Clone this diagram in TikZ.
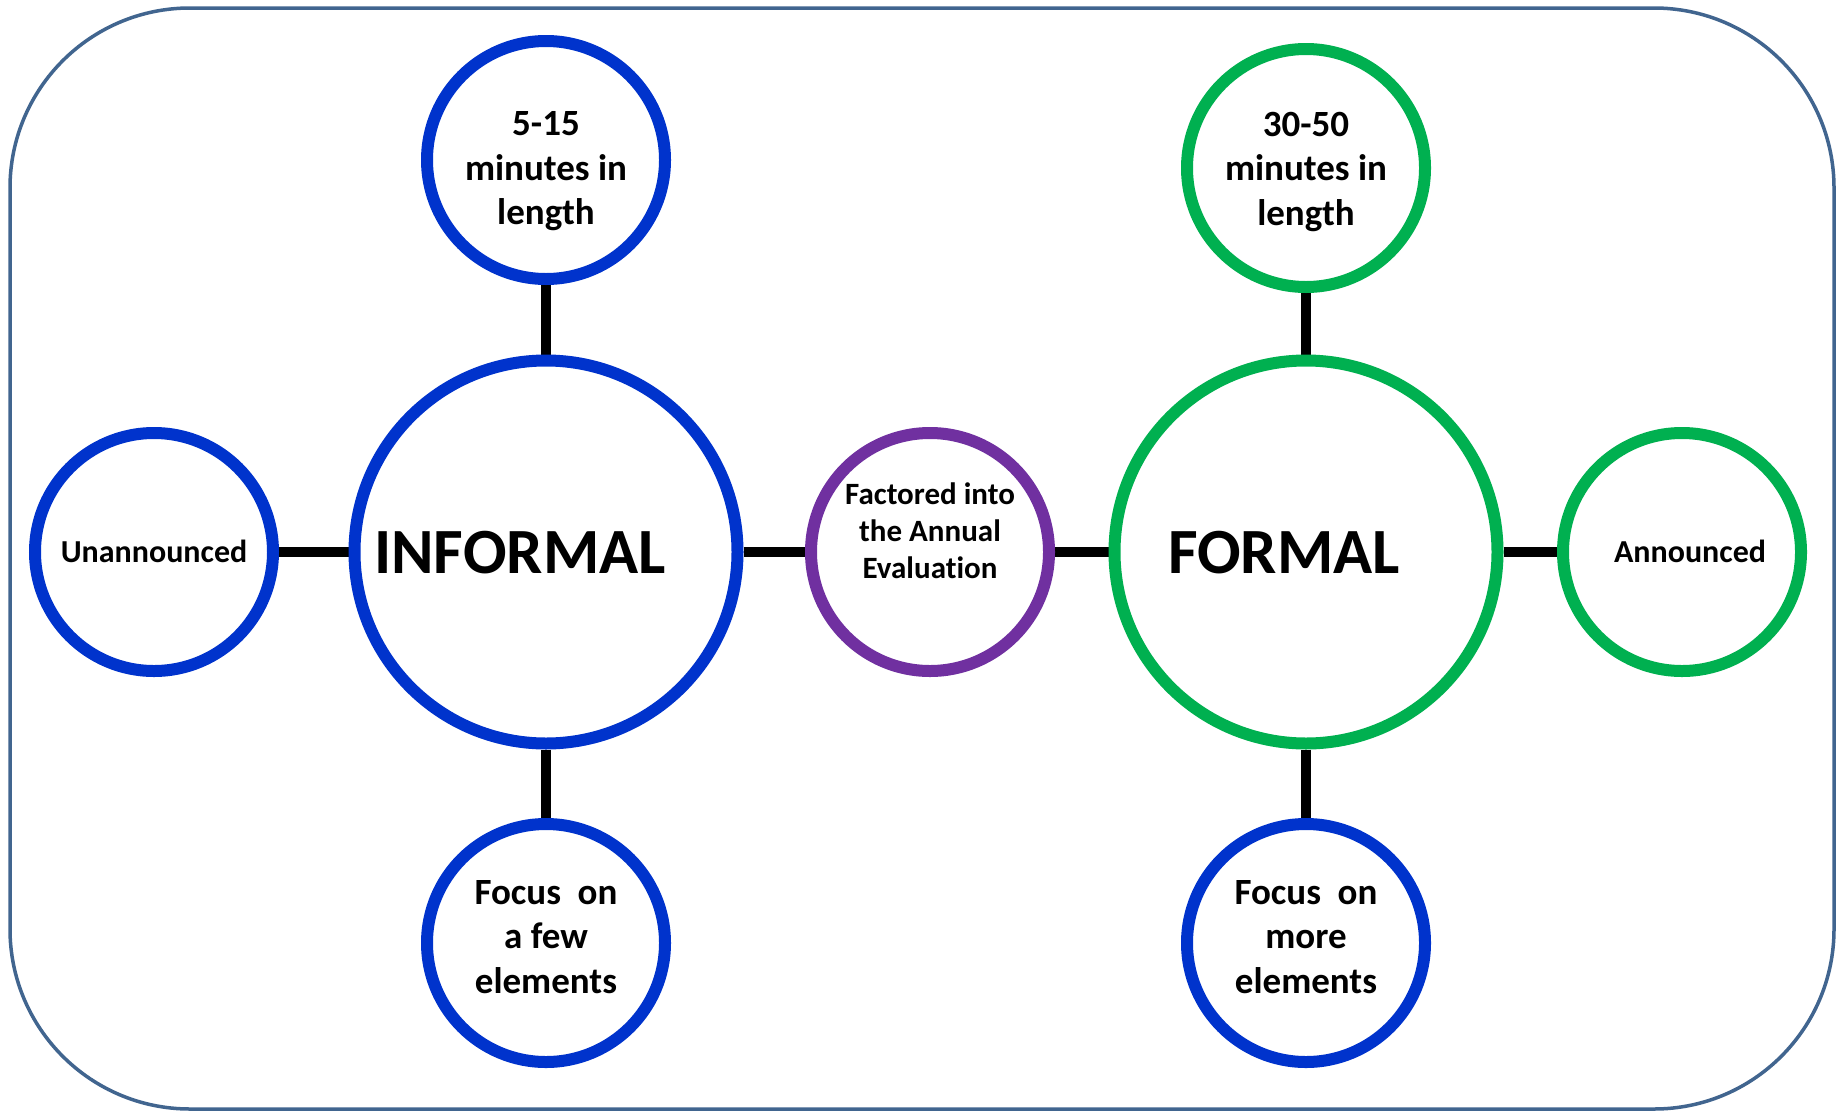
\documentclass[tikz,border=0pt]{standalone}
\usepackage{fontspec}
\setmainfont[Ligatures=NoCommon]{Carlito}
\usetikzlibrary{backgrounds}
\definecolor{cblue}{RGB}{0,51,204}
\definecolor{cgreen}{RGB}{0,176,80}
\definecolor{cpurple}{RGB}{112,48,160}
\definecolor{cframe}{RGB}{65,101,143}
\begin{document}
\begin{tikzpicture}[x=1pt,y=-1pt,
  smallc/.style={circle,draw,fill=white,line width=12pt,minimum size=238pt,inner sep=0pt},
  bigc/.style={smallc,minimum size=383pt},
  txt/.style={align=center,font=\bfseries\fontsize{37}{44.5}\selectfont,inner sep=0pt},
  stxt/.style={align=center,font=\bfseries\fontsize{31}{37}\selectfont,inner sep=0pt},
  htxt/.style={anchor=base,font=\bfseries\fontsize{64.5}{70}\selectfont,inner sep=0pt},
  ltxt/.style={anchor=base,font=\bfseries\fontsize{32}{37}\selectfont,inner sep=0pt},
  conn/.style={line width=10pt,black}]
\useasboundingbox (0,0) rectangle (1841,1111);
\begin{scope}[on background layer]
  \fill[white] (0,0) rectangle (1841,1111);
\end{scope}
\draw[cframe,line width=3.5pt,rounded corners=180pt] (10,8) rectangle (1834,1109);

% circles
\node[bigc,draw=cblue] (inf) at (546,552) {};
\node[bigc,draw=cgreen] (frm) at (1306,552) {};
\node[smallc,draw=cblue] (inftop) at (546,160) {};
\node[smallc,draw=cblue] (infbot) at (546,943) {};
\node[smallc,draw=cblue] (unann) at (154,552) {};
\node[smallc,draw=cpurple] (mid) at (930,552) {};
\node[smallc,draw=cgreen] (frmtop) at (1306,168) {};
\node[smallc,draw=cgreen] (ann) at (1682,552) {};
\node[smallc,draw=cblue] (frmbot) at (1306,943) {};

% connectors
\begin{scope}[on background layer]
  \draw[conn] (inftop) -- (inf);
  \draw[conn] (inf) -- (infbot);
  \draw[conn] (unann) -- (inf);
  \draw[conn] (inf) -- (mid);
  \draw[conn] (mid) -- (frm);
  \draw[conn] (frmtop) -- (frm);
  \draw[conn] (frm) -- (frmbot);
  \draw[conn] (frm) -- (ann);
\end{scope}

% texts
\node[htxt] (inft) at (520,573) {INFORMAL};
\node[htxt] (frmt) at (1284,573) {FORMAL};
\node[txt] (inftopt) at (546,171.5) {5-15\\minutes in\\length};
\node[txt] (frmtopt) at (1306,171.5) {30-50\\minutes in\\length};
\node[txt] (infbott) at (546,937) {Focus\ \ on\\a few\\elements};
\node[txt] (frmbott) at (1306,937) {Focus\ \ on\\more\\elements};
\node[stxt] (midt) at (930,530.5) {Factored into\\the Annual\\Evaluation};
\node[ltxt] (unannt) at (154,562) {Unannounced};
\node[ltxt] (annt) at (1690,562) {Announced};
\end{tikzpicture}
\end{document}
